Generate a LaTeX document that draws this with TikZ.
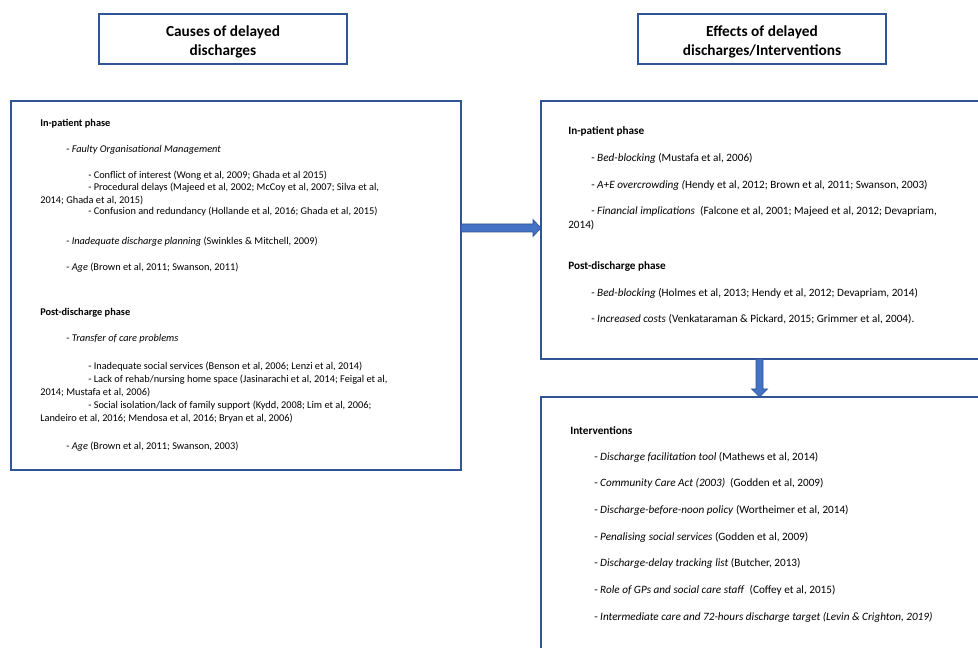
\documentclass[tikz,border=0pt]{standalone}
\usepackage{fontspec}
\setmainfont{Carlito}
\usetikzlibrary{calc}
\definecolor{boxblue}{HTML}{2F5597}
\definecolor{arrowfill}{HTML}{4472C4}
\definecolor{arrowline}{HTML}{2F528F}
\tikzset{
  frame/.style={draw=boxblue, line width=0.8pt, fill=none, inner sep=0pt, outer sep=0pt},
  titlebox/.style={frame, minimum width=186pt, minimum height=37.5pt},
  titletext/.style={inner sep=0pt, align=center, font=\fontsize{11.5}{14.4}\selectfont\bfseries},
  txt/.style={anchor=west, inner sep=0pt, font=\fontsize{7.75}{9}\selectfont},
  hdr/.style={txt, font=\fontsize{7.75}{9}\selectfont\bfseries},
  rtxt/.style={anchor=west, inner sep=0pt, font=\fontsize{8.4}{10}\selectfont},
  rhdr/.style={rtxt, font=\fontsize{8.4}{10}\selectfont\bfseries},
  blockarrow/.style={fill=arrowfill, draw=arrowline, line width=0.5pt},
}
\begin{document}
\begin{tikzpicture}[x=0.75pt, y=-0.75pt]
\useasboundingbox (0,0) rectangle (978,648);
\clip (0,0) rectangle (978,648);
% boxes
\node[titlebox] (T1) at (223,39) {};
\node[titletext] (T1t) at ($(T1.center)+(0,3)$) {Causes of delayed\\discharges};
\node[titlebox] (T2) at (762,39) {};
\node[titletext] (T2t) at ($(T2.center)+(0,3)$) {Effects of delayed\\discharges/Interventions};
\node[frame, minimum width=337.5pt, minimum height=276.75pt] (L) at (236,285.5) {};
\node[frame, minimum width=336.75pt, minimum height=193.5pt] (RT) at (765.5,230) {};
\node[frame, minimum width=336.75pt, minimum height=197.25pt] (RB) at (765.5,528.5) {};
% arrows
\coordinate (hy) at (0,228);
\coordinate (a1) at (L.east |- hy);
\coordinate (a2) at (RT.west |- hy);
\draw[blockarrow] ($(a1)+(0,-4)$) -- ($(a2)+(-8,-4)$) -- ($(a2)+(-8,-8.5)$) -- (a2)
  -- ($(a2)+(-8,8.5)$) -- ($(a2)+(-8,4)$) -- ($(a1)+(0,4)$) -- cycle;
\coordinate (vx) at (759.5,0);
\coordinate (b1) at (RT.south -| vx);
\coordinate (b2) at (RB.north -| vx);
\draw[blockarrow] ($(b1)+(-3.5,0)$) -- ($(b2)+(-3.5,-8)$) -- ($(b2)+(-8,-8)$) -- (b2)
  -- ($(b2)+(8,-8)$) -- ($(b2)+(3.5,-8)$) -- ($(b1)+(3.5,0)$) -- cycle;
% left box text
\node[hdr] (l1) at (40,124) {In-patient phase};
\node[txt] (l2) at (66,150) {- \textit{Faulty Organisational Management}};
\node[txt] (l3) at (88,176) {- Conflict of interest (Wong et al, 2009; Ghada et al 2015)};
\node[txt] (l4) at (88,188) {- Procedural delays (Majeed et al, 2002; McCoy et al, 2007; Silva et al,};
\node[txt] (l5) at (40,200) {2014; Ghada et al, 2015)};
\node[txt] (l6) at (88,212) {- Confusion and redundancy (Hollande et al, 2016; Ghada et al, 2015)};
\node[txt] (l7) at (66,242) {- \textit{Inadequate discharge planning} (Swinkles \& Mitchell, 2009)};
\node[txt] (l8) at (66,268) {- \textit{Age} (Brown et al, 2011; Swanson, 2011)};
\node[hdr] (l9) at (40,313) {Post-discharge phase};
\node[txt] (l10) at (66,339) {- \textit{Transfer of care problems}};
\node[txt] (l11) at (88,367) {- Inadequate social services (Benson et al, 2006; Lenzi et al, 2014)};
\node[txt] (l12) at (88,380) {- Lack of rehab/nursing home space (Jasinarachi et al, 2014; Feigal et al,};
\node[txt] (l13) at (40,392) {2014; Mustafa et al, 2006)};
\node[txt] (l14) at (88,406) {- Social isolation/lack of family support (Kydd, 2008; Lim et al, 2006;};
\node[txt] (l15) at (40,419) {Landeiro et al, 2016; Mendosa et al, 2016; Bryan et al, 2006)};
\node[txt] (l16) at (66,447) {- \textit{Age} (Brown et al, 2011; Swanson, 2003)};
% right top text
\node[rhdr] (r1) at (568,131) {In-patient phase};
\node[rtxt] (r2) at (591,158) {- \textit{Bed-blocking} (Mustafa et al, 2006)};
\node[rtxt] (r3) at (591,185) {- \textit{A+E overcrowding (}Hendy et al, 2012; Brown et al, 2011; Swanson, 2003)};
\node[rtxt] (r4) at (591,211) {- \textit{Financial implications}\ \ (Falcone et al, 2001; Majeed et al, 2012; Devapriam,};
\node[rtxt] (r5) at (568,225) {2014)};
\node[rhdr] (r6) at (568,267) {Post-discharge phase};
\node[rtxt] (r7) at (591,293) {- \textit{Bed-blocking} (Holmes et al, 2013; Hendy et al, 2012; Devapriam, 2014)};
\node[rtxt] (r8) at (591,319) {- \textit{Increased costs} (Venkataraman \& Pickard, 2015; Grimmer et al, 2004).};
% bottom text
\node[rhdr] (i0) at (570,431) {Interventions};
\node[rtxt] (i1) at (594,457) {- \textit{Discharge facilitation tool} (Mathews et al, 2014)};
\node[rtxt] (i2) at (594,483) {- \textit{Community Care Act (2003)}\ \ (Godden et al, 2009)};
\node[rtxt] (i3) at (594,510) {- \textit{Discharge-before-noon policy} (Wortheimer et al, 2014)};
\node[rtxt] (i4) at (594,537) {- \textit{Penalising social services} (Godden et al, 2009)};
\node[rtxt] (i5) at (594,563) {- \textit{Discharge-delay tracking list} (Butcher, 2013)};
\node[rtxt] (i6) at (594,590) {- \textit{Role of GPs and social care staff}\ \ (Coffey et al, 2015)};
\node[rtxt] (i7) at (594,617) {- \textit{Intermediate care and 72-hours discharge target (Levin \& Crighton, 2019)}};
\end{tikzpicture}
\end{document}
